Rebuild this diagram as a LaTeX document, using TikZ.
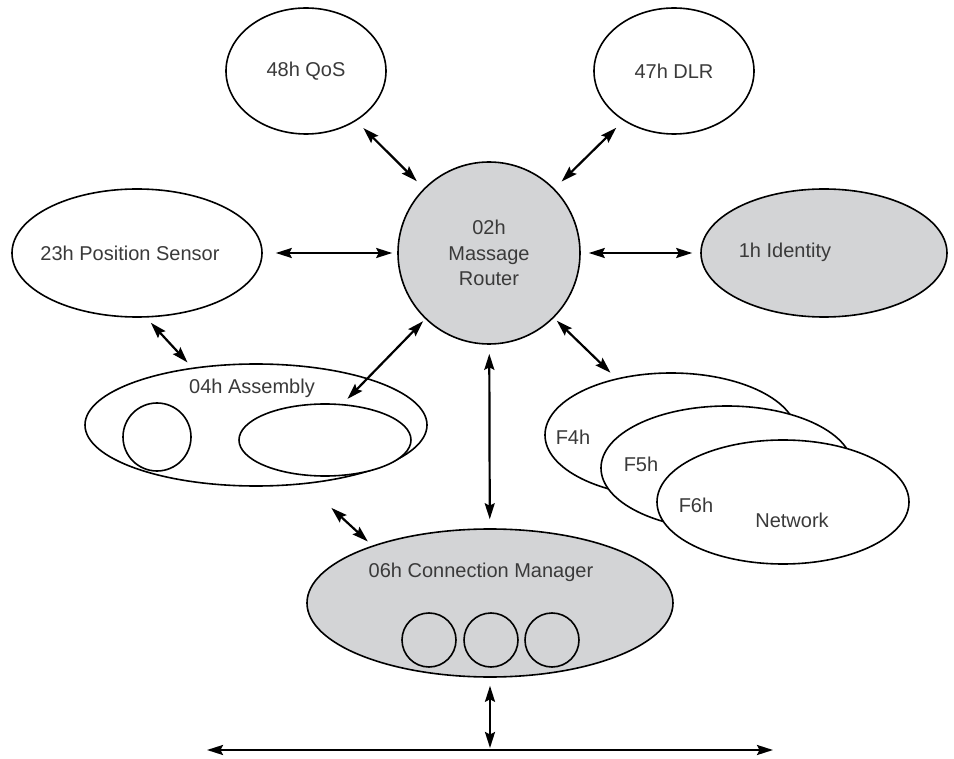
\documentclass[tikz,border=0pt]{standalone}
\usepackage{fontspec}
\setmainfont{Liberation Sans}
\usetikzlibrary{shapes.geometric,arrows.meta}

\definecolor{objgrey}{HTML}{D3D4D6}
\definecolor{txtgrey}{HTML}{3A3A3A}

\begin{document}
\begin{tikzpicture}[x=1pt,y=-1pt,
	obj/.style={draw,ellipse,line width=1.6pt,fill=white,inner sep=0pt,
		text=txtgrey,font=\fontsize{20}{25.5}\selectfont},
	lbl/.style={text=txtgrey,font=\fontsize{20}{25.5}\selectfont,inner sep=0pt},
	link/.style={line width=2.2pt,
		{Stealth[length=16pt,width=10pt,inset=2.5pt]}-{Stealth[length=16pt,width=10pt,inset=2.5pt]}}]
	\useasboundingbox (0,0) rectangle (954,759);

	% Objects round the router
	\node[obj,circle,fill=objgrey,minimum size=182pt,align=center] (router) at (489,253)
		{02h\\Massage\\Router};
	\node[obj,minimum width=160pt,minimum height=126pt] (qos) at (306,71) {48h QoS};
	\node[obj,minimum width=160pt,minimum height=126pt] (dlr) at (674,71) {47h DLR};
	\node[obj,minimum width=250pt,minimum height=128pt] (ps) at (137,253) {};
	\node[lbl] (pstxt) at (130,253) {23h Position Sensor};
	\node[obj,fill=objgrey,minimum width=246pt,minimum height=128pt] (id) at (824,253) {};
	\node[lbl] (idtxt) at (785,252) {1h Identity};

	% Assembly
	\node[obj,minimum width=342pt,minimum height=122pt] (asm) at (256,425) {};
	\node[lbl] (asmtxt) at (252,388) {04h Assembly};
	\node[obj,circle,minimum size=68pt] (asmcirc) at (157,437) {};
	\node[obj,minimum width=172pt,minimum height=72pt] (asmin) at (325,440) {};

	% Network objects, stacked
	\foreach \n/\x/\y in {4/671/435,5/727/468,6/783/502}
		\node[obj,minimum width=252pt,minimum height=124pt] (f\n) at (\x,\y) {};
	\node[lbl] (f4txt) at (573,437) {F4h};
	\node[lbl] (f5txt) at (641,464) {F5h};
	\node[lbl] (f6txt) at (696,505) {F6h};
	\node[lbl] (nettxt) at (792,520) {Network};

	% Connection manager
	\node[obj,fill=objgrey,minimum width=366pt,minimum height=148pt] (cm) at (490,603) {};
	\node[lbl] (cmtxt) at (481,572) {06h Connection Manager};
	\foreach \i/\x in {1/429,2/491,3/552}
		\node[obj,circle,fill=none,minimum size=54pt] (cm\i) at (\x,640) {};

	% Bus
	\coordinate (busl) at (207,750);
	\coordinate (busr) at (773,750);

	% Links
	\draw[link,shorten <=10pt,shorten >=10pt] (qos) -- (router);
	\draw[link,shorten <=10pt,shorten >=10pt] (dlr) -- (router);
	\draw[link,shorten <=13pt,shorten >=5pt] (ps) -- (router);
	\draw[link,shorten <=8pt,shorten >=8pt] (router) -- (id);
	\draw[link,shorten <=7pt,shorten >=7pt] (ps.-82) -- (asm.138);
	\draw[link,shorten <=3pt,shorten >=7pt] (router.-134) -- (asmin.64);
	\draw[link,shorten <=4pt,shorten >=8pt] (router.-45) -- (f4.134);
	\draw[link,shorten <=9pt,shorten >=9pt] (router) -- (cm);
	\draw[link,shorten <=35pt,shorten >=6pt] (asm.-50) -- (cm.154);
	\draw[link,shorten <=8pt,shorten >=2pt] (cm.south) -- (cm.south |- busl);
	\draw[link] (busl) -- (busr);

\end{tikzpicture}
\end{document}
